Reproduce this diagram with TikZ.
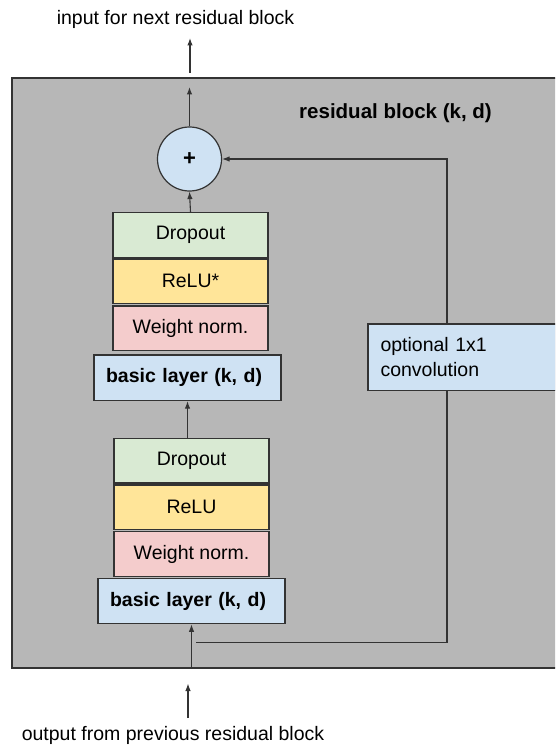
\documentclass[tikz,border=0pt]{standalone}
\usepackage{fontspec}
\setmainfont{Liberation Sans}
\usetikzlibrary{arrows.meta}

\definecolor{blockgray}{HTML}{B7B7B7}
\definecolor{dropgreen}{HTML}{D9EAD3}
\definecolor{reluyellow}{HTML}{FFE599}
\definecolor{normpink}{HTML}{F4CCCC}
\definecolor{layerblue}{HTML}{CFE2F3}
\definecolor{edgegray}{HTML}{333333}

\tikzset{
  txt/.style={font=\fontsize{19.5}{25}\selectfont},
  layerbox/.style={txt, draw=edgegray, line width=1.2pt, inner sep=0pt,
    minimum width=155pt, minimum height=44.5pt},
  basicbox/.style={txt, draw=edgegray, line width=1.2pt, fill=layerblue,
    font=\fontsize{19.5}{25}\selectfont\bfseries,
    minimum height=45.5pt, text width=163pt, inner xsep=12pt, inner ysep=0pt, align=left},
  flow/.style={draw=edgegray, line width=1.1pt},
  arr/.style={flow, -{Latex[length=7.5pt,width=5.5pt]}},
}

\begin{document}
\begin{tikzpicture}[x=1pt,y=-1pt]
\path[use as bounding box] (0,0) rectangle (555,749);
\clip (0,0) rectangle (555,749);

% residual block frame
\node[draw=edgegray, line width=1.2pt, fill=blockgray, inner sep=0pt,
  minimum width=560pt, minimum height=590pt] (block) at (292,373) {};
\node[font=\fontsize{20.5}{25}\selectfont\bfseries] (title) at (395.5,113) {residual block (k, d)};

% addition node
\node[circle, draw=edgegray, line width=1.2pt, fill=layerblue, minimum size=64pt,
  inner sep=0pt, font=\fontsize{22}{24}\selectfont\bfseries] (plus) at (189.5,159) {+};

% upper basic layer stack
\node[layerbox, fill=dropgreen]  (drop1) at (190.5,235)   {Dropout};
\node[layerbox, fill=reluyellow] (relu1) at (190.5,281.3) {ReLU*};
\node[layerbox, fill=normpink]   (norm1) at (190.5,328.3) {Weight norm.};
\node[basicbox] (basic1) at (187.5,377.8) {basic layer (k, d)};

% lower basic layer stack
\node[layerbox, fill=dropgreen]  (drop2) at (191.5,460.8) {Dropout};
\node[layerbox, fill=reluyellow] (relu2) at (191.5,507.3) {ReLU};
\node[layerbox, fill=normpink]   (norm2) at (191.5,554)   {Weight norm.};
\node[basicbox] (basic2) at (191.5,601) {basic layer (k, d)};

% skip connection with optional convolution
\node[txt, draw=edgegray, line width=1.2pt, fill=layerblue, minimum height=66.7pt,
  text width=182pt, inner xsep=12.5pt, align=left] (conv) at (471.5,357.3)
  {optional 1x1\\convolution};

% outside labels
\node[txt] (outlbl) at (175.5,19) {input for next residual block};
\node[txt] (inlbl) at (173,735) {output from previous residual block};

\coordinate (topstart) at (190,73);
\coordinate (topend) at (190,38);
\coordinate (botstart) at (188,718);
\coordinate (botend) at (188,683.5);
\coordinate (skipcorner) at (447,642.3);
\coordinate (skipend) at (196,642.3);

% connectors
\draw[arr] (botstart) -- (botend);
\draw[arr] (basic2.south |- block.south) -- (basic2.south);
\draw[arr] (drop2.north -| basic1.south) -- (basic1.south);
\draw[arr] (drop1.north) -- (plus.south);
\draw[arr] (plus.north) -- (plus.north |- 0,87);
\draw[arr] (topstart) -- (topend);
\draw[flow] (skipend) -- (skipcorner) -- (conv.south -| skipcorner);
\draw[arr] (conv.north -| skipcorner) |- (plus.east);
\end{tikzpicture}
\end{document}
